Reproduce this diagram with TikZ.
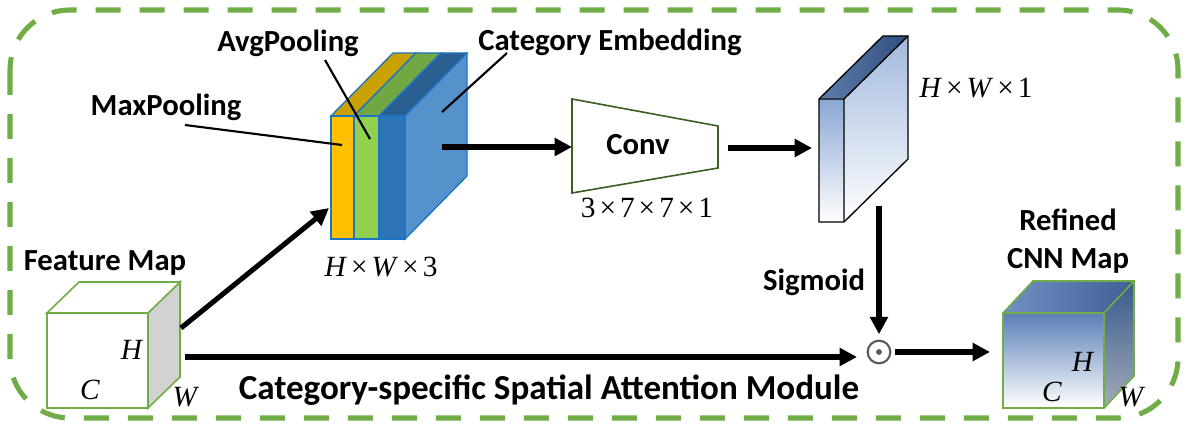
\documentclass[tikz,border=0pt]{standalone}
\usepackage{fontspec}
\setmainfont{Carlito}
\newfontfamily\dimfont{Liberation Serif}
\usetikzlibrary{arrows.meta,positioning,calc}
\definecolor{frameGreen}{HTML}{70AD47}
\definecolor{convGreen}{HTML}{3B5E23}
\definecolor{slabEdge}{HTML}{1B75C4}
\definecolor{maxFront}{HTML}{FFC000}
\definecolor{maxTop}{HTML}{C9A100}
\definecolor{avgFront}{HTML}{92D050}
\definecolor{avgTop}{HTML}{72A843}
\definecolor{embFront}{HTML}{2E75B6}
\definecolor{embTop}{HTML}{2C5F91}
\definecolor{embSide}{HTML}{5591CA}
\definecolor{attTop}{HTML}{2F4E80}
\definecolor{attTopL}{HTML}{5F7DAA}
\definecolor{attFace}{HTML}{8AA7D4}
\definecolor{refFace}{HTML}{5B7FB8}
\definecolor{refSide}{HTML}{39598D}
\definecolor{refSideB}{HTML}{A3ABB8}
\definecolor{refTopL}{HTML}{7290C2}
\definecolor{refTopR}{HTML}{3F5F95}
\def\sdx{62}
\def\sdy{63}
\newcommand{\dimtxt}[1]{{\dimfont #1}}
\newcommand{\tms}{\hspace{3pt}×\hspace{3pt}}

\begin{document}
\begin{tikzpicture}
    [
        x=0.75pt, y=-0.75pt,
        lbl/.style={font=\fontsize{23}{26}\selectfont\bfseries, inner sep=0pt},
        mth/.style={font=\fontsize{22}{24}\selectfont\dimfont, inner sep=0pt},
        bigArrow/.style={line width=3.8pt, -{Triangle[length=13pt,width=13pt]}},
        pointer/.style={line width=1.6pt},
        cubeEdge/.style={draw=frameGreen, line width=1.2pt},
        slab/.style={draw=slabEdge, line width=1pt}
    ]
    \useasboundingbox (0,0) rectangle (1189,427);
    % module frame
    \draw[frameGreen, line width=3.8pt, dash pattern=on 18.75pt off 14.25pt,
          rounded corners=45pt] (10,10) rectangle (1178,418);

    % feature map cube
    \coordinate (fmA) at (47,313);
    \coordinate (fmB) at (148,313);
    \coordinate (fmC) at (148,408);
    \draw[cubeEdge, fill=gray!35] (fmB) -- ++(32,-31) -- ++(0,95) -- (fmC) -- cycle;
    \draw[cubeEdge, fill=white] (fmA) -- ++(32,-31) -- ++(101,0) -- (fmB) -- cycle;
    \draw[cubeEdge, fill=white] (fmA) rectangle (fmC);
    \node[lbl] (fmLbl) at (105,263) {Feature Map};
    \node[mth] (fmH) at (132,350) {\textit{H}};
    \node[mth] (fmC1) at (90,390) {\textit{C}};
    \node[mth] (fmW) at (186,397) {\textit{W}};

    % pooled stack
    \coordinate (mxA) at (331,116);
    \coordinate (avA) at (354,116);
    \coordinate (emA) at (379,116);
    \coordinate (emB) at (405,116);
    \draw[slab, fill=maxTop] (mxA) -- ++(\sdx,-\sdy) -- ++(23,0) -- (avA) -- cycle;
    \draw[slab, fill=avgTop] (avA) -- ++(\sdx,-\sdy) -- ++(25,0) -- (emA) -- cycle;
    \draw[slab, fill=embTop] (emA) -- ++(\sdx,-\sdy) -- ++(26,0) -- (emB) -- cycle;
    \draw[slab, fill=embSide] (emB) -- ++(\sdx,-\sdy) -- ++(0,123) -- ++(-\sdx,\sdy) -- cycle;
    \draw[slab, fill=maxFront] (mxA) rectangle (354,239);
    \draw[slab, fill=avgFront] (avA) rectangle (379,239);
    \draw[slab, fill=embFront] (emA) rectangle (405,239);
    \node[mth] (stackDim) at (381,267) {\textit{H}\tms\textit{W}\tms3};

    \node[lbl] (maxLbl) at (166,107) {MaxPooling};
    \node[lbl] (avgLbl) at (288,43) {AvgPooling};
    \node[lbl] (embLbl) at (610,42) {Category Embedding};
    \coordinate (maxTip) at (342,145);
    \coordinate (avgTip) at (370,139);
    \coordinate (embTip) at (442,112);
    \draw[pointer] (185,125) -- (maxTip);
    \draw[pointer] (325,60) -- (avgTip);
    \draw[pointer] (507,53) -- (embTip);

    % conv block
    \coordinate (cvNW) at (572,99);
    \coordinate (cvNE) at (718,126);
    \coordinate (cvSE) at (718,168);
    \coordinate (cvSW) at (572,193);
    \draw[convGreen, line width=1.2pt, fill=white] (cvNW) -- (cvNE) -- (cvSE) -- (cvSW) -- cycle;
    \node[lbl] (convLbl) at (638,145) {Conv};
    \node[mth] (convDim) at (647,208) {3\tms7\tms7\tms1};

    % attention map slab
    \coordinate (atA) at (819,99);
    \coordinate (atB) at (844,99);
    \shade[left color=attTopL, right color=attTop]
        (atA) -- ++(64,-63) -- ++(25,0) -- (atB) -- cycle;
    \shade[top color=attFace!80, bottom color=white]
        (atB) -- ++(64,-63) -- ++(0,123) -- ++(-64,63) -- cycle;
    \shade[top color=attFace, bottom color=white] (atA) rectangle (844,222);
    \draw[line width=1pt] (atA) -- ++(64,-63) -- ++(25,0) -- ++(0,123) -- ++(-64,63) -- ++(-25,0) -- cycle;
    \draw[line width=1pt] (atA) -- (atB) -- ++(64,-63) (atB) -- (844,222);
    \node[mth] (atDim) at (976,88) {\textit{H}\tms\textit{W}\tms1};

    % product and refined map
    \node[circle, draw=black!65, line width=1.6pt, minimum size=17pt, inner sep=0pt] (prod) at (879,352) {};
    \fill[black!65] (prod.center) circle (2.2pt);
    \node[lbl] (sigLbl) at (814,282) {Sigmoid};

    \coordinate (rfA) at (1003,313);
    \coordinate (rfB) at (1104,313);
    \coordinate (rfC) at (1104,408);
    \shade[top color=refSide, bottom color=refSideB]
        (rfB) -- ++(30,-32) -- ++(0,95) -- (rfC) -- cycle;
    \shade[left color=refTopL, right color=refTopR]
        (rfA) -- ++(30,-32) -- ++(101,0) -- (rfB) -- cycle;
    \shade[top color=refFace, bottom color=white] (rfA) rectangle (rfC);
    \draw[cubeEdge] (rfA) -- ++(30,-32) -- ++(101,0) -- ++(0,95) -- (rfC) -- (1003,408) -- cycle;
    \draw[cubeEdge] (rfA) -- (rfB) -- ++(30,-32) (rfB) -- (rfC);
    \node[lbl, align=center] (rfLbl) at (1068,241) {Refined\\[2pt]CNN Map};
    \node[mth] (rfH) at (1083,362) {\textit{H}};
    \node[mth] (rfC1) at (1052,392) {\textit{C}};
    \node[mth] (rfW) at (1132,397) {\textit{W}};

    % connectors
    \coordinate (fmOut) at (181,328);
    \coordinate (fmSide) at (185,357);
    \coordinate (prodIn) at (857,357);
    \coordinate (stackIn) at (329,208);
    \draw[bigArrow] (fmOut) -- (stackIn);
    \draw[bigArrow] (fmSide) -- (prodIn);
    \draw[bigArrow] (442,147) -- (cvNW |- 0,147);
    \draw[bigArrow] (728,148) -- (812,148);
    \draw[bigArrow, shorten >=4pt] (prod |- 0,206) -- (prod.north);
    \draw[bigArrow, shorten <=3pt] (prod.east) -- (990,352);

    \node[font=\fontsize{26.3}{30}\selectfont\bfseries, inner sep=0pt] (title) at (549,390)
        {Category-specific Spatial Attention Module};
\end{tikzpicture}
\end{document}
